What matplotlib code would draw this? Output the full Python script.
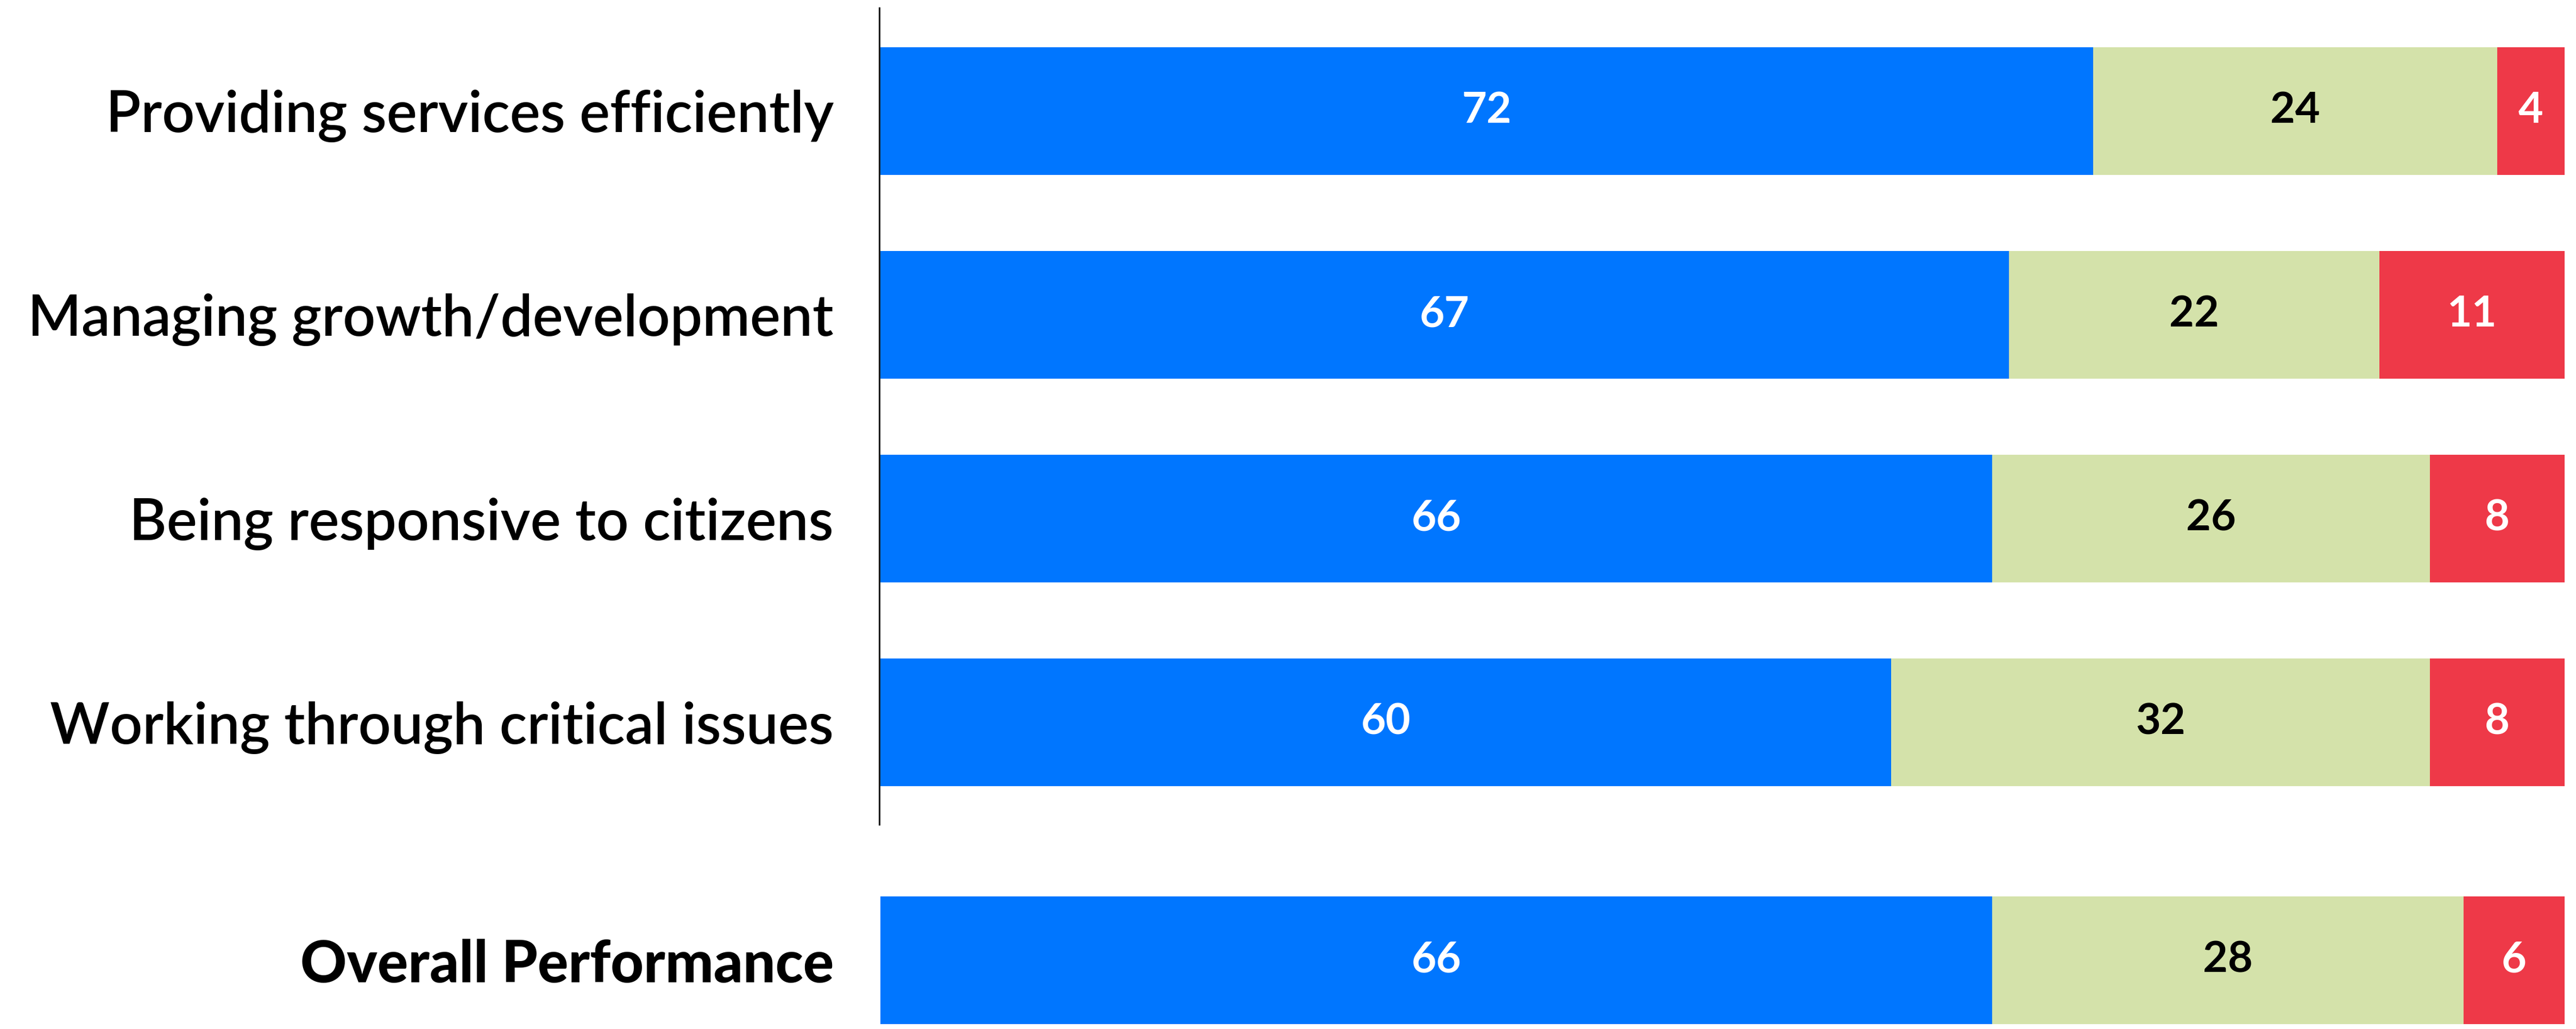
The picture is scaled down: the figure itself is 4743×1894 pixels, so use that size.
import matplotlib
matplotlib.use("Agg")
import matplotlib.pyplot as plt
import numpy as np

categories = [
    "Providing services efficiently",
    "Managing growth/development",
    "Being responsive to citizens",
    "Working through critical issues",
    "Overall Performance",
]
good = [72, 67, 66, 60, 66]
fair = [24, 22, 26, 32, 28]
poor = [4, 11, 8, 8, 6]

colors = ["#0076FF", "#D4E2AA", "#EE3948"]
text_colors = ["white", "black", "white"]

# rows are evenly spaced, the overall row sits a bit lower
y = np.array([0, 1, 2, 3, 4.168])
bar_h = 0.627

fig = plt.figure(figsize=(47.43, 18.94), dpi=100)
ax = fig.add_axes([1621 / 4743, 0, (4722 - 1621) / 4743, 1])

left = np.zeros(len(categories))
for vals, c, tc in zip([good, fair, poor], colors, text_colors):
    vals = np.array(vals)
    bars = ax.barh(y, vals, left=left, height=bar_h, color=c, linewidth=0)
    for b, v in zip(bars, vals):
        ax.text(
            b.get_x() + b.get_width() / 2,
            b.get_y() + b.get_height() / 2,
            str(v),
            ha="center",
            va="center",
            color=tc,
            fontsize=57,
            fontweight="bold",
            family="Lato",
        )
    left += vals

ax.set_xlim(0, 100)
ax.set_ylim(4.5053, -0.5453)

# vertical axis line only along the four item rows
ax.vlines(-0.06, -0.5107, 3.505, color="black", linewidth=2, clip_on=False)

ax.set_yticks(y)
ax.set_yticklabels(categories, family="Lato", fontsize=76, fontweight="semibold")
ax.get_yticklabels()[-1].set_fontweight("black")
ax.tick_params(axis="y", length=0, pad=62)
ax.set_xticks([])
for s in ax.spines.values():
    s.set_visible(False)

fig.savefig("out.png", dpi=100)
